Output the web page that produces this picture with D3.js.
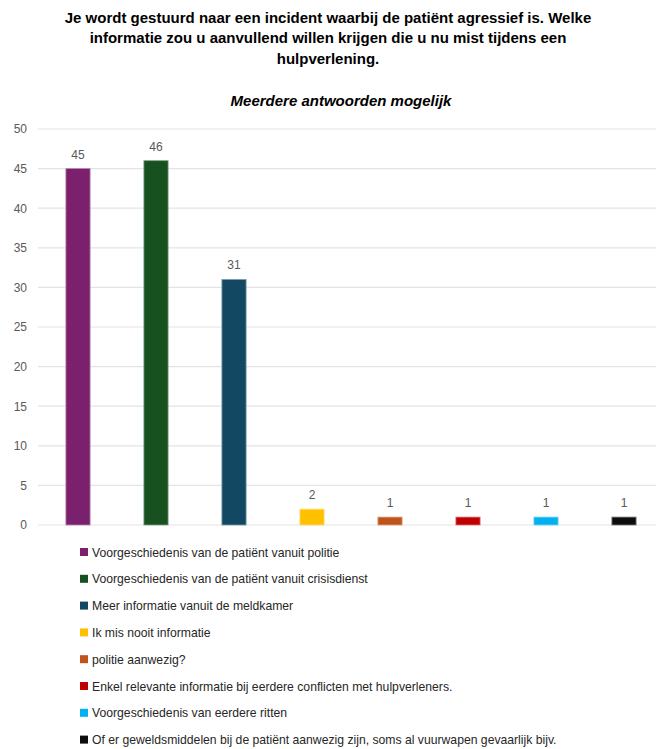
<!DOCTYPE html>
<html>
<head>
<meta charset="utf-8">
<script src="https://cdn.jsdelivr.net/npm/d3@7"></script>
<style>
  html, body { margin: 0; padding: 0; background: #ffffff; }
  svg { display: block; }
</style>
</head>
<body>
<svg id="chart" width="656" height="749"></svg>
<script>
// Answers to the survey question and how often each was given
const categories = [
  "Voorgeschiedenis van de patiënt vanuit politie",
  "Voorgeschiedenis van de patiënt vanuit crisisdienst",
  "Meer informatie vanuit de meldkamer",
  "Ik mis nooit informatie",
  "politie aanwezig?",
  "Enkel relevante informatie bij eerdere conflicten met hulpverleners.",
  "Voorgeschiedenis van eerdere ritten",
  "Of er geweldsmiddelen bij de patiënt aanwezig zijn, soms al vuurwapen gevaarlijk bijv."
];
const counts = [45, 46, 31, 2, 1, 1, 1, 1];
const colors = ["#7a206c", "#175120", "#124862", "#ffc000", "#c0531a", "#c00000", "#00b0f0", "#0d0d0d"];
const yTicks = [0, 5, 10, 15, 20, 25, 30, 35, 40, 45, 50];

const titleLines = [
  "Je wordt gestuurd naar een incident waarbij de patiënt agressief is. Welke",
  "informatie zou u aanvullend willen krijgen die u nu mist tijdens een",
  "hulpverlening."
];
const subtitle = "Meerdere antwoorden mogelijk";

const svg = d3.select("#chart");
const W = 656;
const font = "'Liberation Sans', Arial, sans-serif";

// Title block
svg.append("g").selectAll("text").data(titleLines).join("text")
  .attr("x", 328)
  .attr("y", (d, i) => 22.5 + i * 20.5)
  .attr("text-anchor", "middle")
  .attr("font-family", font)
  .attr("font-weight", "bold")
  .attr("font-size", 15)
  .attr("fill", "#000")
  .text(d => d);

svg.append("text")
  .attr("x", 341)
  .attr("y", 105.5)
  .attr("text-anchor", "middle")
  .attr("font-family", font)
  .attr("font-weight", "bold")
  .attr("font-style", "italic")
  .attr("font-size", 15)
  .attr("fill", "#000")
  .text(subtitle);

// Scales
const x = d3.scaleBand().domain(categories).range([39, 663]).paddingInner(0.69).paddingOuter(0.345);
const y = d3.scaleLinear().domain([0, 50]).range([525, 129]);

// Gridlines
svg.append("g").selectAll("line").data(yTicks).join("line")
  .attr("x1", 38).attr("x2", W)
  .attr("y1", d => y(d)).attr("y2", d => y(d))
  .attr("stroke", "#e3e3e3")
  .attr("stroke-width", 1.2);

// Y axis labels
const yAxis = d3.axisLeft(y).tickValues(yTicks).tickSize(0).tickPadding(0);
const gy = svg.append("g").attr("transform", "translate(27,0)").call(yAxis);
gy.select(".domain").remove();
gy.selectAll("text")
  .attr("font-family", font)
  .attr("font-size", 12)
  .attr("fill", "#595959");

// Bars
svg.append("g").selectAll("rect").data(counts).join("rect")
  .attr("x", (d, i) => x(categories[i]))
  .attr("y", d => y(d))
  .attr("width", x.bandwidth())
  .attr("height", d => y(0) - y(d))
  .attr("fill", (d, i) => colors[i])
  .attr("stroke", (d, i) => d3.interpolateRgb(colors[i], "#ffffff")(0.45))
  .attr("stroke-width", 0.8);

// Value labels
svg.append("g").selectAll("text").data(counts).join("text")
  .attr("x", (d, i) => x(categories[i]) + x.bandwidth() / 2)
  .attr("y", d => y(d) - 10)
  .attr("text-anchor", "middle")
  .attr("font-family", font)
  .attr("font-size", 12)
  .attr("fill", "#595959")
  .text(d => d);

// Legend
const legend = svg.append("g").selectAll("g").data(categories).join("g")
  .attr("transform", (d, i) => `translate(80, ${552 + i * 26.8})`);
legend.append("rect")
  .attr("x", 0).attr("y", -4)
  .attr("width", 8).attr("height", 8)
  .attr("fill", (d, i) => colors[i]);
legend.append("text")
  .attr("x", 12).attr("y", 4.5)
  .attr("font-family", font)
  .attr("font-size", 12.2)
  .attr("fill", "#262626")
  .text(d => d);
</script>
</body>
</html>
